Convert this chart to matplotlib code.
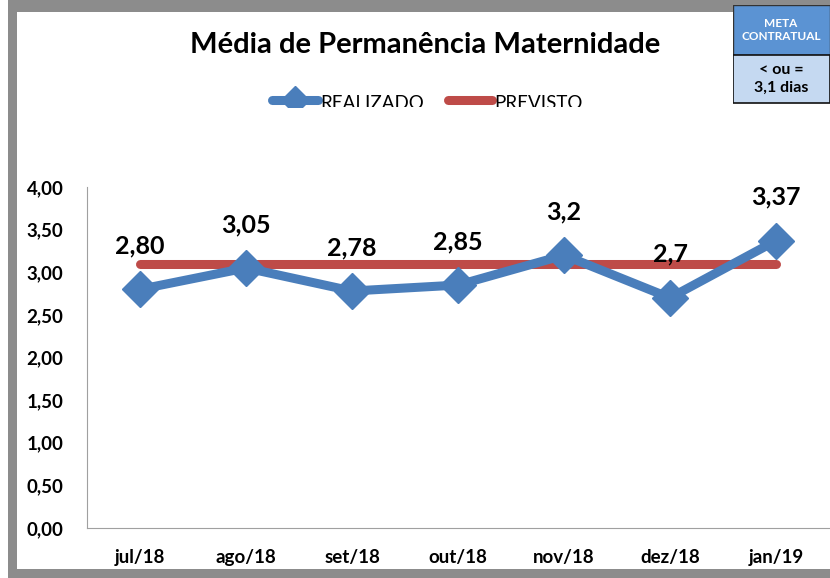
import numpy as np
import matplotlib.pyplot as plt
from matplotlib.patches import Rectangle

meses = ['jul/18', 'ago/18', 'set/18', 'out/18', 'nov/18', 'dez/18', 'jan/19']
realizado = [2.80, 3.05, 2.78, 2.85, 3.2, 2.7, 3.37]
rotulos = ['2,80', '3,05', '2,78', '2,85', '3,2', '2,7', '3,37']
previsto = [3.1] * 7
yticks = [0, 0.5, 1, 1.5, 2, 2.5, 3, 3.5, 4]

plt.rcParams['font.family'] = ['Lato', 'DejaVu Sans']

azul = '#4A7EBB'
vermelho = '#BE4B48'

fig = plt.figure(figsize=(8.3, 5.78), dpi=100)
W, H = 830, 578

# moldura cinza
fig.patches.append(Rectangle((8 / W, 0), 1, 1, transform=fig.transFigure,
                             facecolor='#8c8c8c', edgecolor='none', zorder=-10))
fig.patches.append(Rectangle((17 / W, 9 / H), 1, 1 - 9 / H - 12 / H, transform=fig.transFigure,
                             facecolor='white', edgecolor='none', zorder=-9))

ax = fig.add_axes([87 / W, (H - 528) / H, (829 - 87) / W, (528 - 187) / H])
ax.patch.set_alpha(0)
x = np.arange(len(meses))
ax.plot(x, previsto, color=vermelho, lw=6.5, solid_capstyle='round', zorder=2)
ax.plot(x, realizado, color=azul, lw=6.5, marker='D', markersize=18,
        solid_joinstyle='round', zorder=3)
for xi, v, r in zip(x, realizado, rotulos):
    ax.annotate(r, (xi, v), xytext=(0, 23), textcoords='offset points',
                ha='center', va='bottom', fontsize=18, fontweight='bold')

ax.set_xlim(-0.5, 6.5)
ax.set_ylim(0, 4)
ax.set_yticks(yticks)
ax.set_yticklabels([('%.2f' % v).replace('.', ',') for v in yticks])
ax.set_xticks(x)
ax.set_xticklabels(meses)
for lab in ax.get_xticklabels() + ax.get_yticklabels():
    lab.set_fontweight('bold')
    lab.set_fontsize(13.5)
ax.tick_params(length=0, pad=15, axis='x')
ax.tick_params(length=0, pad=17, axis='y')
for s in ['top', 'right']:
    ax.spines[s].set_visible(False)
ax.spines['left'].set_color('#a0a0a0')
ax.spines['bottom'].set_color('#a0a0a0')

fig.text(425 / W, 1 - 45 / H, 'Média de Permanência Maternidade', ha='center', va='center',
         fontsize=21, fontweight='bold')

# legenda (cortada embaixo, como no original)
lax = fig.add_axes([0, 1 - 107 / H, 1, 30 / H])
lax.patch.set_alpha(0)
lax.set_xlim(0, W)
lax.set_ylim(107, 77)
lax.axis('off')
lax.plot([272, 318], [100, 100], color=azul, lw=6.5, solid_capstyle='round', clip_on=True)
lax.plot([295], [100], marker='D', color=azul, markersize=14, clip_on=True)
lax.text(320, 103, 'REALIZADO', ha='left', va='center', fontsize=13.5, clip_on=True)
lax.plot([448, 492], [100, 100], color=vermelho, lw=6.5, solid_capstyle='round')
lax.text(494, 103, 'PREVISTO', ha='left', va='center', fontsize=13.5, clip_on=True)

# caixa da meta
bax = fig.add_axes([733 / W, 1 - 104 / H, 97 / W, 99 / H])
bax.set_xlim(0, 97)
bax.set_ylim(99, 0)
bax.axis('off')
bax.add_patch(Rectangle((0, 0), 97, 50, facecolor='#5B93D3', edgecolor='#333333', lw=1))
bax.add_patch(Rectangle((0, 50), 97, 48, facecolor='#C5D9F1', edgecolor='#111111', lw=1.2))
bax.text(48, 25, 'META\nCONTRATUAL', ha='center', va='center', color='white',
         fontsize=8.5, fontweight='bold', linespacing=1.3)
bax.text(48, 74, '< ou =\n3,1 dias', ha='center', va='center', color='black',
         fontsize=11.5, fontweight='bold', linespacing=1.3)

fig.savefig('out.png', dpi=100)
